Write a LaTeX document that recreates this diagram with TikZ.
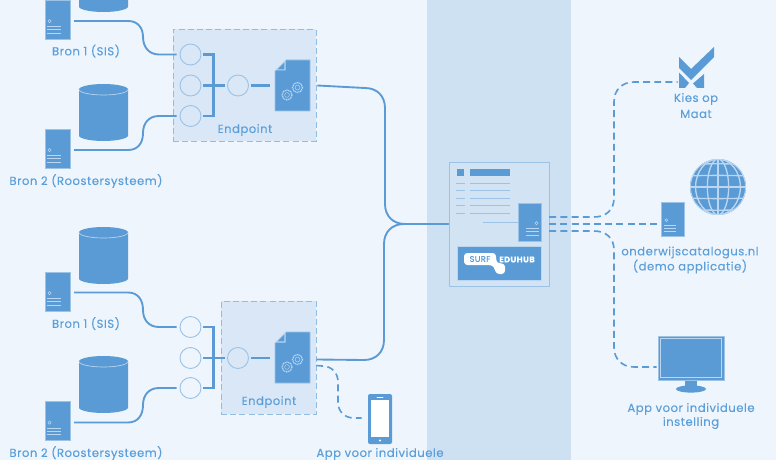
\documentclass[tikz,border=0pt]{standalone}
\usepackage{fontspec}
\setmainfont[LetterSpace=4.5,FakeBold=0.12]{Poppins}
\usetikzlibrary{calc}
\definecolor{bgc}{HTML}{EFF5FC}
\definecolor{bandc}{HTML}{CEE1F3}
\definecolor{mainb}{HTML}{5B9BD5}
\definecolor{lightb}{HTML}{9CC3E6}
\definecolor{epfill}{HTML}{DAE7F6}
\definecolor{txtb}{HTML}{5B9FDA}
\definecolor{paleb}{HTML}{BAD6F0}
\tikzset{
 x=0.75pt,y=-0.75pt,
 conn/.style={draw=mainb,line width=1.4pt,line cap=butt},
 sconn/.style={draw=mainb,line width=1.9pt,line cap=butt},
 dconn/.style={draw=mainb,line width=1.2pt,dash pattern=on 5.2pt off 3.2pt},
 srv/.style={draw=lightb,line width=.3pt,fill=mainb,inner sep=0pt,minimum width=18.75pt,minimum height=29.25pt},
 srvsmall/.style={draw=lightb,line width=.3pt,fill=mainb,inner sep=0pt,minimum width=17pt,minimum height=25.5pt},
 port/.style={circle,draw=lightb,line width=.7pt,inner sep=0pt,minimum size=15.75pt},
 epbox/.style={draw=#1,fill=epfill,line width=.7pt,dash pattern=on 4.5pt off 2.4pt},
 lbl/.style={text=txtb,font=\fontsize{8.7}{10.5}\selectfont,align=center,inner sep=0pt},
 deco/.style={draw=paleb,line width=.6pt},
}
\newcommand{\srvdeco}[2]{%
 \begin{scope}[shift={(#1.south)}]
  \draw[deco,line width=.4pt] (#2*-8,-18) circle[radius=1.6];
  \foreach \yy in {-12.5,-9.3,-6}{\draw[deco,line width=.7pt] (#2*-10.5,\yy) -- (#2*3.5,\yy);}
 \end{scope}}
\newcommand{\cyl}[3]{% center x, top y, bottom y
 \fill[mainb] (#1-24.5,#2+5.5) arc[start angle=180,end angle=0,x radius=24.5,y radius=-5.5]
   -- (#1+24.5,#3-5.5) arc[start angle=0,end angle=-180,x radius=24.5,y radius=-5.5] -- cycle;
 \draw[paleb,line width=.5pt] (#1-24.5,#2+5.5) arc[start angle=180,end angle=360,x radius=24.5,y radius=-5.5];}
\newcommand{\docicon}[3]{% name, left x, top y
 \node[inner sep=0pt,minimum width=26.25pt,minimum height=38.25pt] (#1) at (#2+17.5,#3+25.5) {};
 \begin{scope}[shift={(#2,#3)}]
  \fill[mainb,draw=lightb,line width=.4pt] (0,11) -- (11,0) -- (35,0) -- (35,51) -- (0,51) -- cycle;
  \fill[paleb] (0,10.5) -- (10.5,10.5) -- (10.5,0) -- cycle;
  \fill[mainb] (2.5,9.3) -- (9.3,9.3) -- (9.3,2.5) -- cycle;
  \draw[deco,dash pattern=on .9pt off .5pt,line width=.9pt] (12,35) circle[radius=5];
  \draw[deco,line width=.35pt] (12,35) circle[radius=2.4];
  \draw[deco,dash pattern=on .9pt off .5pt,line width=.9pt] (22.5,27.5) circle[radius=5];
  \draw[deco,line width=.35pt] (22.5,27.5) circle[radius=2.4];
 \end{scope}}
\begin{document}
\begin{tikzpicture}
\useasboundingbox (0,0) rectangle (776,460);
\begin{scope}
\clip (0,0) rectangle (776,460);
\fill[bgc] (0,0) rectangle (776,460);
\fill[bandc] (427,0) rectangle (571,460);

% endpoint boxes
\node[epbox=lightb!85!mainb,inner sep=0pt,minimum width=107.25pt,minimum height=84pt] (ep1) at (244.5,85) {};
\node[epbox=lightb!85!mainb,inner sep=0pt,minimum width=71.25pt,minimum height=84.75pt] (ep2) at (268.5,357.5) {};

% cylinders
\cyl{103.5}{-45}{12}
\cyl{103.5}{84}{141}
\cyl{103.5}{227}{284}
\cyl{103.5}{356}{413}

% servers
\node[srv] (s1) at (57.5,19.5) {}; \srvdeco{s1}{1}
\node[srv] (s2) at (57.5,148.5) {}; \srvdeco{s2}{1}
\node[srv] (s3) at (57.5,291.5) {}; \srvdeco{s3}{1}
\node[srv] (s4) at (57.5,421) {}; \srvdeco{s4}{1}

% labels
\node[lbl] (l1) at (86,51) {Bron 1 (SIS)};
\node[lbl] (l2) at (86,181) {Bron 2 (Roostersysteem)};
\node[lbl] (l3) at (86,323.5) {Bron 1 (SIS)};
\node[lbl] (l4) at (86,453) {Bron 2 (Roostersysteem)};
\node[lbl] (e1) at (245,130) {Endpoint};
\node[lbl] (e2) at (269,402) {Endpoint};

% ports
\node[port] (a1) at (190.5,54.5) {};
\node[port] (a2) at (190.5,85.5) {};
\node[port] (a3) at (190.5,116) {};
\node[port] (a4) at (238,85.5) {};
\node[port] (b1) at (190.5,327) {};
\node[port] (b2) at (190.5,358) {};
\node[port] (b3) at (190.5,388) {};
\node[port] (b4) at (238,358) {};

% documents
\docicon{d1}{275}{60}
\docicon{d2}{275}{332}

% source connectors
\draw[conn] ($(s1.east)+(4,1.5)$) -- (128,21) .. controls (138,21) and (143,28) .. (143,37) .. controls (143,47) and (149,54.5) .. (159,54.5) -- ($(a1.west)+(-3,0)$);
\draw[conn] ($(s2.east)+(4,1.5)$) -- (128,150) .. controls (138,150) and (143,143) .. (143,133) .. controls (143,123) and (149,116) .. (159,116) -- ($(a3.west)+(-3,0)$);
\draw[conn] ($(s3.east)+(4,1)$) -- (128,292.5) .. controls (138,292.5) and (143,300) .. (143,310) .. controls (143,320) and (149,327) .. (159,327) -- ($(b1.west)+(-3,0)$);
\draw[conn] ($(s4.east)+(4,1.5)$) -- (128,422.5) .. controls (138,422.5) and (143,415) .. (143,405) .. controls (143,395) and (149,388) .. (159,388) -- ($(b3.west)+(-3,0)$);

% brackets
\draw[sconn] ($(a1.east)+(2,0)$) -| (213.5,116) -- ($(a3.east)+(2,0)$);
\draw[sconn] ($(a2.east)+(2,0)$) -- ($(a4.west)+(-2,0)$);
\draw[sconn] ($(a4.east)+(2,0)$) -- ($(d1.west)+(-5,0)$);
\draw[sconn] ($(b1.east)+(2,0)$) -| (213.5,388) -- ($(b3.east)+(2,0)$);
\draw[sconn] ($(b2.east)+(2,0)$) -- ($(b4.west)+(-2,0)$);
\draw[sconn] ($(b4.east)+(2,0)$) -- ($(d2.west)+(-5,.5)$);

% hub
\node[draw=lightb,line width=.7pt,fill=bandc!70!epfill,inner sep=0pt,minimum width=75pt,minimum height=93pt] (hub) at (499,224) {};
\fill[mainb] (457,169) rectangle (464,176);
\fill[mainb] (470,169) rectangle (510,176);
\foreach \yy in {183.5,191,198.5,206,213.5}{
 \draw[lightb,line width=.75pt] (456,\yy) -- (465,\yy);
 \draw[lightb,line width=.75pt] (470,\yy) -- (510,\yy);}
\draw[lightb,line width=.75pt] (483,222.5) -- (518,222.5);
\node[srv,minimum width=17.25pt,minimum height=28.5pt] (hs) at (529.5,222) {};
\begin{scope}[shift={(hs.south)}]
 \draw[deco,line width=.4pt] (7,-18) circle[radius=1.6];
 \foreach \yy in {-12.5,-9.3,-6}{\draw[deco,line width=.7pt] (-3.5,\yy) -- (9.5,\yy);}
\end{scope}
\node[draw=paleb,line width=.3pt,fill=mainb,inner sep=0pt,minimum width=63pt,minimum height=25.5pt] (logo) at (499,263) {};
\fill[white,rounded corners=2.5pt] (464,253) -- (496,253) -- (496,261) -- (498,263.5) -- (505,263.5) -- (505,274) -- (496,274) -- (494,266.5) -- (491,265) -- (464,265) -- cycle;
\node[text=mainb,font=\fontsize{6.2}{7}\selectfont,inner sep=0pt] (surf) at (480,259) {SURF};
\node[text=white,font=\fontsize{6.2}{7}\selectfont\bfseries,inner sep=0pt] (edu) at (517,259.5) {EDUHUB};

% solid trunks
\draw[conn] ($(d1.east)+(7,0)$) -- (365,88) .. controls (377,88) and (385,96) .. (385,108) -- (385,204) .. controls (385,216) and (393,224) .. (405,224) -- (hub.west);
\draw[conn] ($(d2.east)+(6,2)$) -- (364,360) .. controls (376,360) and (384,352) .. (384,340) -- (384,244) .. controls (384,232) and (392,224) .. (404,224) -- (hub.west);

% kies op maat
\node[inner sep=0pt,minimum width=26.25pt,minimum height=30.75pt] (kies) at (696.5,67.5) {};
\fill[mainb] (679,57) -- (691,69) -- (714,47) -- (714,57) -- (691,80) -- (679,68) -- cycle;
\fill[mainb] (679,72.5) -- (689,83) -- (685,88) -- (679,88) -- cycle;
\fill[mainb] (704,74) -- (704,88) -- (697,88) -- (693,83.5) -- cycle;
\node[lbl] (k1) at (696,99) {Kies op};
\node[lbl] (k2) at (696,114) {Maat};

% globe
\node[circle,inner sep=0pt,minimum size=42pt,fill=mainb] (globe) at (718,187) {};
\begin{scope}
 \clip (718,187) circle[radius=28];
 \foreach \yy in {-21,-10.5,0,10.5,21}{\draw[paleb,line width=1pt] (690,187+\yy+\yy*.06) .. controls (708,187+\yy*1.12) and (728,187+\yy*1.12) .. (746,187+\yy*1.06);}
 \foreach \r in {0.38,0.8}{
  \draw[paleb,line width=1pt] (718,159) arc[start angle=90,end angle=-90,x radius=28*\r,y radius=-28];
  \draw[paleb,line width=1pt] (718,159) arc[start angle=90,end angle=270,x radius=28*\r,y radius=-28];}
 \draw[paleb,line width=1pt] (718,159) -- (718,215);
\end{scope}
\draw[paleb,line width=.6pt] (718,187) circle[radius=27.6];

% demo server
\node[srvsmall] (ds) at (672.8,219) {};
\begin{scope}[shift={(ds.south)}]
 \draw[deco,line width=.4pt] (-6.5,-16) circle[radius=1.4];
 \foreach \yy in {-10.5,-7.5,-4.5}{\draw[deco,line width=.7pt] (-8.5,\yy) -- (3,\yy);}
\end{scope}
\node[lbl] (o1) at (690,252.5) {onderwijscatalogus.nl};
\node[lbl] (o2) at (690,266.5) {(demo applicatie)};

% monitor
\node[draw=lightb,line width=.4pt,fill=mainb,inner sep=0pt,minimum width=49.5pt,minimum height=33pt] (mon) at (691,358) {};
\draw[paleb,line width=.6pt] (660.5,338.5) rectangle (721.5,377.5);
\fill[mainb] (685,381) rectangle (697,386);
\fill[mainb] (691,389) ellipse[x radius=15,y radius=3.6];
\node[lbl] (m1) at (691,409) {App voor individuele};
\node[lbl] (m2) at (691,423) {instelling};

% phone
\node[inner sep=0pt,minimum width=18pt,minimum height=37.5pt,fill=mainb,rounded corners=1.5pt] (ph) at (380,419) {};
\fill[white] (371,400) rectangle (389,437);
\fill[white] (380,440.5) circle[radius=1.2];
\draw[white,line width=.7pt,line cap=round] (377,397) -- (383,397);
\node[lbl] (p1) at (380,454) {App voor individuele};

% dashed connectors
\draw[dconn] ($(hs.east)+(8,-5)$) -- (594,217) .. controls (606,217) and (614,210) .. (614,198) -- (614,102) .. controls (614,90) and (622,82) .. (634,82) -- ($(kies.west)+(-1,14.5)$);
\draw[dconn] ($(hs.east)+(8,2)$) -- ($(ds.west)+(-3,5)$);
\draw[dconn] ($(hs.east)+(8,9)$) -- (594,231) .. controls (606,231) and (614,238) .. (614,250) -- (614,347) .. controls (614,359) and (622,367) .. (634,367) -- ($(mon.west)+(-1,9)$);
\draw[dconn] ($(d2.east)+(6,8)$) -- (322,366) .. controls (332,366) and (338,373) .. (338,382) -- (338,402) .. controls (338,412) and (345,418) .. (354,418) -- ($(ph.west)+(-6,-1)$);
\end{scope}
\end{tikzpicture}
\end{document}
